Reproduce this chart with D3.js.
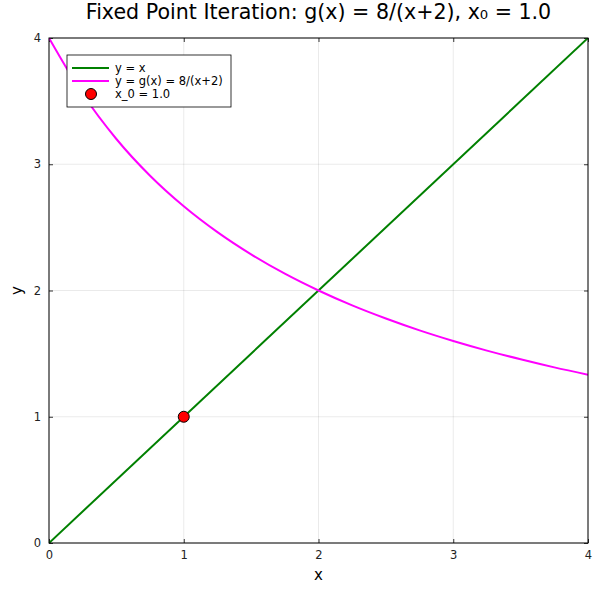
<!DOCTYPE html>
<html>
<head>
<meta charset="utf-8">
<script src="https://cdn.jsdelivr.net/npm/d3@7"></script>
<style>
  body { margin: 0; background: #fff; }
  text { font-family: "DejaVu Sans", sans-serif; }
</style>
</head>
<body>
<div id="canvas"></div>
<script>
// identity line y = x
const lineX = [0, 4];
const lineY = [0, 4];

// g(x) = 8/(x+2)
const curveX = [0, 0.25, 0.5, 0.75, 1, 1.25, 1.5, 1.75, 2, 2.25, 2.5, 2.75, 3, 3.25, 3.5, 3.75, 4];
const curveY = [4.0, 3.556, 3.2, 2.909, 2.667, 2.462, 2.286, 2.133, 2.0, 1.882, 1.778, 1.684, 1.6, 1.524, 1.455, 1.391, 1.333];

// starting point
const pointX = [1.0];
const pointY = [1.0];

const xTicks = [0, 1, 2, 3, 4];
const yTicks = [0, 1, 2, 3, 4];
const legendLabels = ["y = x", "y = g(x) = 8/(x+2)", "x_0 = 1.0"];

const width = 600;
const height = 600;
const margin = { top: 38, left: 49, bottom: 57, right: 12 };
const iwidth = width - margin.left - margin.right;
const iheight = height - margin.top - margin.bottom;

const svg = d3.select("#canvas").append("svg")
    .attr("width", width)
    .attr("height", height);

const g = svg.append("g").attr("transform", `translate(${margin.left},${margin.top})`);

const x = d3.scaleLinear().domain([0, 4]).range([0, iwidth]);
const y = d3.scaleLinear().domain([0, 4]).range([iheight, 0]);

// grid
g.append("g").selectAll("line").data(xTicks).enter().append("line")
    .attr("x1", d => x(d)).attr("x2", d => x(d))
    .attr("y1", 0).attr("y2", iheight)
    .style("stroke", "#000").style("stroke-opacity", 0.12).style("stroke-width", 0.7);
g.append("g").selectAll("line").data(yTicks).enter().append("line")
    .attr("y1", d => y(d)).attr("y2", d => y(d))
    .attr("x1", 0).attr("x2", iwidth)
    .style("stroke", "#000").style("stroke-opacity", 0.12).style("stroke-width", 0.7);

// axes
const xAxis = g.append("g")
    .attr("transform", `translate(0, ${iheight})`)
    .call(d3.axisBottom(x).tickValues(xTicks).tickFormat(d3.format("d")).tickSizeInner(-4).tickSizeOuter(0).tickPadding(8));
const yAxis = g.append("g")
    .call(d3.axisLeft(y).tickValues(yTicks).tickFormat(d3.format("d")).tickSizeInner(-4).tickSizeOuter(0).tickPadding(8));
const xTop = g.append("g")
    .call(d3.axisTop(x).tickValues(xTicks).tickFormat("").tickSizeInner(-4).tickSizeOuter(0));
const yRight = g.append("g")
    .attr("transform", `translate(${iwidth}, 0)`)
    .call(d3.axisRight(y).tickValues(yTicks).tickFormat("").tickSizeInner(-4).tickSizeOuter(0));

[xAxis, yAxis, xTop, yRight].forEach(a => {
    a.select(".domain").remove();
    a.selectAll("line").style("stroke", "#000").style("stroke-width", 0.8);
    a.selectAll("text").style("font-size", "11.5px").style("fill", "#222");
});

// curves
const clip = svg.append("clipPath").attr("id", "clip")
    .append("rect").attr("width", iwidth).attr("height", iheight);

const lineGen = d3.line().x(d => x(d[0])).y(d => y(d[1]));
const curveGen = d3.line().x(d => x(d[0])).y(d => y(d[1])).curve(d3.curveMonotoneX);

const plot = g.append("g").attr("clip-path", "url(#clip)");

plot.append("path")
    .datum(lineX.map((v, i) => [v, lineY[i]]))
    .attr("d", lineGen)
    .style("fill", "none").style("stroke", "#008000").style("stroke-width", 2);

plot.append("path")
    .datum(curveX.map((v, i) => [v, curveY[i]]))
    .attr("d", curveGen)
    .style("fill", "none").style("stroke", "#ff00ff").style("stroke-width", 2);

g.selectAll("circle.pt").data(pointX).enter().append("circle")
    .attr("class", "pt")
    .attr("cx", d => x(d))
    .attr("cy", (d, i) => y(pointY[i]))
    .attr("r", 5.5)
    .style("fill", "#ff0000").style("stroke", "#000").style("stroke-width", 1);

// frame
g.append("rect")
    .attr("width", iwidth).attr("height", iheight)
    .style("fill", "none").style("stroke", "#000").style("stroke-width", 1);

// legend
const legend = svg.append("g").attr("transform", "translate(67, 55)");
legend.append("rect")
    .attr("width", 164).attr("height", 52)
    .style("fill", "#fff").style("stroke", "#000").style("stroke-width", 0.8);
const colors = ["#008000", "#ff00ff"];
legendLabels.forEach((lbl, i) => {
    const ly = 13 + i * 13;
    if (i < 2) {
        legend.append("line")
            .attr("x1", 5).attr("x2", 42).attr("y1", ly).attr("y2", ly)
            .style("stroke", colors[i]).style("stroke-width", 2);
    } else {
        legend.append("circle")
            .attr("cx", 24).attr("cy", ly).attr("r", 5.5)
            .style("fill", "#ff0000").style("stroke", "#000").style("stroke-width", 1);
    }
    legend.append("text")
        .attr("x", 48).attr("y", ly + 4)
        .style("font-size", "11.5px").style("fill", "#000")
        .text(lbl);
});

// title and labels
svg.append("text")
    .attr("text-anchor", "middle")
    .attr("x", margin.left + iwidth / 2)
    .attr("y", 19)
    .style("font-size", "20.6px")
    .text("Fixed Point Iteration: g(x) = 8/(x+2), x₀ = 1.0");

svg.append("text")
    .attr("text-anchor", "middle")
    .attr("x", margin.left + iwidth / 2)
    .attr("y", 580)
    .style("font-size", "15px")
    .text("x");

svg.append("text")
    .attr("text-anchor", "middle")
    .attr("transform", `translate(22, ${margin.top + iheight / 2}) rotate(-90)`)
    .style("font-size", "15px")
    .text("y");
</script>
</body>
</html>
